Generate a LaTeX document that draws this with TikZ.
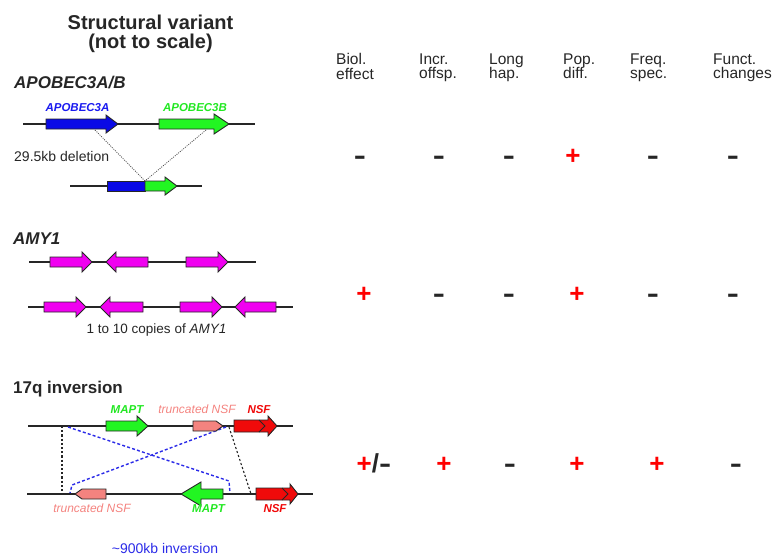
\documentclass[tikz,border=0pt]{standalone}
\usepackage{fontspec}
\setmainfont{Liberation Sans}

\definecolor{ink}{HTML}{262626}
\definecolor{geneblue}{HTML}{0A0AE6}
\definecolor{genegreen}{HTML}{22F522}
\definecolor{genemag}{HTML}{F000F0}
\definecolor{genesalmon}{HTML}{F4837F}
\definecolor{genered}{HTML}{F00A0A}
\definecolor{labblue}{HTML}{1A1AF0}
\definecolor{labgreen}{HTML}{22E822}
\definecolor{invblue}{HTML}{2B2BE8}

\newcommand\fsz[2]{\fontsize{#1}{#2}\selectfont}

% gene arrow: style, start x, tip x, y, head length (signed), body half-height, head half-height
\newcommand\genearr[7]{%
  \draw[gene,#1] (#2,{#4-(#6)}) -- ({#3-(#5)},{#4-(#6)}) -- ({#3-(#5)},{#4-(#7)})
    -- (#3,#4) -- ({#3-(#5)},{#4+(#7)}) -- ({#3-(#5)},{#4+(#6)}) -- (#2,{#4+(#6)}) -- cycle;}

\begin{document}
\begin{tikzpicture}[x=1pt,y=-1pt,
  chrom/.style={draw=ink,line width=1.1pt},
  gene/.style={draw=ink,line width=0.9pt,line join=miter},
  chev/.style={draw=ink,line width=0.8pt},
  deldot/.style={draw=ink!80,line width=0.8pt,dash pattern=on 1pt off 1.2pt},
  brkdash/.style={draw=ink,line width=1.1pt,dash pattern=on 2.2pt off 2pt},
  invdash/.style={draw=invblue,line width=1.4pt,dash pattern=on 3pt off 2.2pt},
  heading/.style={inner sep=0pt,text=ink,font=\fsz{20}{20}\bfseries},
  section/.style={inner sep=0pt,text=ink,font=\fsz{17}{17}\bfseries,anchor=base west},
  genelab/.style={inner sep=0pt,font=\fsz{11.5}{12}\bfseries\itshape,anchor=base},
  note/.style={inner sep=0pt,text=ink,font=\fsz{14}{14},anchor=base},
  colhead/.style={inner sep=0pt,text=ink,font=\fsz{15.5}{14.5},align=left,anchor=north west},
  yes/.style={inner sep=0pt,anchor=base,text=red,font=\fsz{26}{26}\bfseries},
  no/.style={inner sep=0pt,anchor=base,text=ink,font=\fsz{26}{26}\bfseries}]
\useasboundingbox (0,0) rectangle (778,557);

\newcommand\plus{+}
\newcommand\minus{\scalebox{1.4}[1]{-}}

% ---------- titles ----------
\node[heading,anchor=base] (title1) at (150.5,29.5) {Structural variant};
\node[heading,anchor=base] (title2) at (150.5,48.5) {(not to scale)};

\node[colhead] (h1) at (336,53.5) {Biol.\\effect};
\node[colhead] (h2) at (419,53.5) {Incr.\\offsp.};
\node[colhead] (h3) at (489,53.5) {Long\\hap.};
\node[colhead] (h4) at (563,53.5) {Pop.\\diff.};
\node[colhead] (h5) at (630,53.5) {Freq.\\spec.};
\node[colhead] (h6) at (713,53.5) {Funct.\\changes};

% ---------- APOBEC3A/B deletion ----------
\node[section,font=\fsz{17}{17}\bfseries\itshape] (apoTitle) at (14,88.5) {APOBEC3A/B};
\draw[chrom] (23,124) -- (255,124);
\draw[chrom] (70,186) -- (202,186);
\genearr{fill=geneblue}{46}{118}{124}{12}{5}{9}
\genearr{fill=genegreen}{159}{229}{124}{15}{5}{10}
\draw[gene,fill=geneblue] (107,181) rectangle (145,191);
\genearr{fill=genegreen}{145}{177}{186}{12}{5}{9}
\node[genelab,text=labblue] (labA) at (77.5,111) {APOBEC3A};
\node[genelab,text=labgreen] (labB) at (195,111) {APOBEC3B};
\coordinate (cutA) at (95,130);
\coordinate (cutB) at (206,130);
\coordinate (fuse) at (145,181);
\draw[deldot] (cutA) -- (fuse);
\draw[deldot] (cutB) -- (fuse);
\node[note,anchor=base west] (delnote) at (14,161.5) {29.5kb deletion};

% ---------- AMY1 copy number ----------
\node[section,font=\fsz{17}{17}\bfseries\itshape] (amyTitle) at (13,244) {AMY1};
\draw[chrom] (29,262) -- (256,262);
\draw[chrom] (28,307) -- (293,307);
\genearr{fill=genemag}{50}{92}{262}{10}{5}{10}
\genearr{fill=genemag}{148}{106}{262}{-10}{5}{10}
\genearr{fill=genemag}{186}{228}{262}{10}{5}{10}
\genearr{fill=genemag}{44}{86}{307}{10}{5}{10}
\genearr{fill=genemag}{143}{100}{307}{-10}{5}{10}
\genearr{fill=genemag}{180}{222}{307}{10}{5}{10}
\genearr{fill=genemag}{276}{235}{307}{-10}{5}{10}
\node[note,font=\fsz{13.5}{14}] (copies) at (156.5,333.5) {1 to 10 copies of \textit{AMY1}};

% ---------- 17q inversion ----------
\node[section] (invTitle) at (13,393) {17q inversion};
\draw[chrom] (28,426) -- (293,426);
\draw[chrom] (27,494) -- (313,494);

\coordinate (lbTop) at (62,426);
\coordinate (lbBot) at (62,494);
\coordinate (rbTop) at (229,427);
\coordinate (rbBot) at (251,494);
\draw[brkdash] (lbTop) -- (lbBot);
\draw[brkdash] (rbTop) -- (rbBot);

\coordinate (ia1) at (68,427);
\coordinate (ia2) at (229,481);
\coordinate (ia3) at (230,493);
\coordinate (ib1) at (226,427);
\coordinate (ib2) at (72,485);
\coordinate (ib3) at (70,493);
\draw[invdash] (ia1) -- (ia2) -- (ia3);
\draw[invdash] (ib1) -- (ib2) -- (ib3);

\genearr{fill=genegreen}{106}{148}{426}{11}{5}{10}
\genearr{fill=genesalmon}{193}{223}{426}{7}{5}{5}
\genearr{fill=genered}{234}{277}{426}{9}{6}{10}
\draw[chev] (259,420) -- (265,426) -- (259,432);

\genearr{fill=genesalmon}{106}{75}{494}{-7}{5}{5}
\genearr{fill=genegreen}{223}{181}{494}{-20}{5}{12}
\genearr{fill=genered}{256}{298}{494}{8}{6}{10}
\draw[chev] (282,488) -- (288,494) -- (282,500);

\node[genelab,text=labgreen] (mapt1) at (127,413) {MAPT};
\node[genelab,font=\fsz{12}{12}\itshape,text=genesalmon] (tnsf1) at (197,413) {truncated NSF};
\node[genelab,text=genered] (nsf1) at (259,413) {NSF};
\node[genelab,font=\fsz{12}{12}\itshape,text=genesalmon] (tnsf2) at (92,512) {truncated NSF};
\node[genelab,text=labgreen] (mapt2) at (208.5,512) {MAPT};
\node[genelab,text=genered] (nsf2) at (275,512) {NSF};
\node[note,text=invblue] (invnote) at (165,553) {\textasciitilde900kb inversion};

% ---------- evidence table ----------
\node[no]  (r1c1) at (360,164) {\minus};
\node[no]  (r1c2) at (439,164) {\minus};
\node[no]  (r1c3) at (509,164) {\minus};
\node[yes] (r1c4) at (573,164) {\plus};
\node[no]  (r1c5) at (653,164) {\minus};
\node[no]  (r1c6) at (733,164) {\minus};

\node[yes] (r2c1) at (364,302) {\plus};
\node[no]  (r2c2) at (439,302) {\minus};
\node[no]  (r2c3) at (509,302) {\minus};
\node[yes] (r2c4) at (577,302) {\plus};
\node[no]  (r2c5) at (653,302) {\minus};
\node[no]  (r2c6) at (733,302) {\minus};

\node[no]  (r3c1) at (374,472) {\textcolor{red}{\plus}/\minus};
\node[yes] (r3c2) at (444,472) {\plus};
\node[no]  (r3c3) at (510,472) {\minus};
\node[yes] (r3c4) at (577,472) {\plus};
\node[yes] (r3c5) at (657,472) {\plus};
\node[no]  (r3c6) at (736,472) {\minus};
\end{tikzpicture}
\end{document}
